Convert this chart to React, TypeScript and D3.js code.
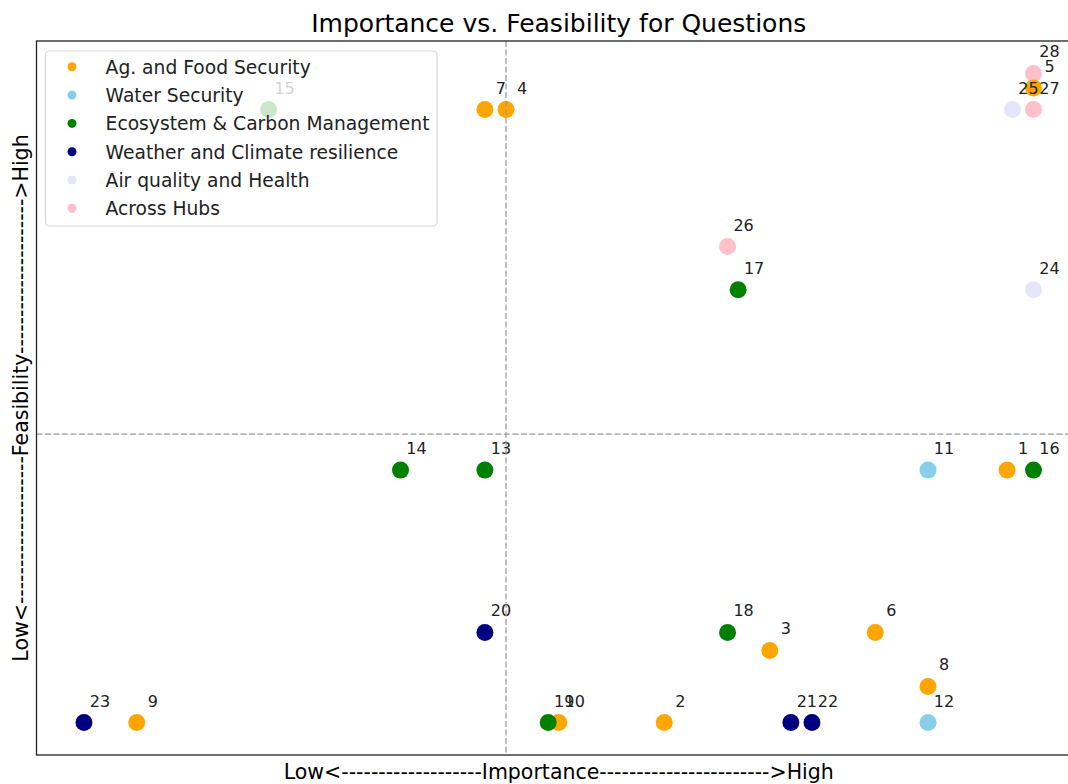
import React from "react";
import * as d3 from "d3";

const categories = [
  "Ag. and Food Security",
  "Water Security",
  "Ecosystem & Carbon Management",
  "Weather and Climate resilience",
  "Air quality and Health",
  "Across Hubs",
];
const categoryColors = ["orange", "skyblue", "green", "navy", "lavender", "pink"];

const questionIds = [
  1, 2, 3, 4, 5, 6, 7, 8, 9, 10, 11, 12, 13, 14, 15, 16, 17, 18, 19, 20, 21, 22, 23, 24, 25, 26, 27, 28,
];
const questionCategory = [
  0, 0, 0, 0, 0, 0, 0, 0, 0, 0, 1, 1, 2, 2, 2, 2, 2, 2, 2, 3, 3, 3, 3, 4, 4, 5, 5, 5,
];
const importance = [
  87.5, 55, 65, 40, 90, 75, 38, 80, 5, 45, 80, 80, 38, 30, 17.5, 90, 62, 61, 44, 38, 67, 69, 0, 90, 88, 61, 90, 90,
];
const feasibility = [
  14, 0, 4, 34, 35.2, 5, 34, 2, 0, 0, 14, 0, 14, 14, 34, 14, 24, 5, 0, 5, 0, 0, 0, 24, 34, 26.4, 34, 36,
];
const importanceThreshold = 40;
const feasibilityThreshold = 16;
// plotting order of categories (bottom to top)
const drawOrder = [5, 0, 1, 2, 3, 4];

const titleText = "Importance vs. Feasibility for Questions";
const xLabelText = "Low<" + "-".repeat(19) + "Importance" + "-".repeat(23) + ">High";
const yLabelText = "Low<" + "-".repeat(20) + "Feasibility" + "-".repeat(21) + ">High";

const W = 1068;
const H = 784;
const left = 36.5;
const right = 1081;
const top = 41;
const bottom = 755;
const FONT = "DejaVu Sans, sans-serif";

function padded(vals: number[]): [number, number] {
  const [lo, hi] = d3.extent(vals) as [number, number];
  const p = (hi - lo) * 0.05;
  return [lo - p, hi + p];
}

export default function App() {
  const x = d3.scaleLinear().domain(padded(importance)).range([left, right]);
  const y = d3.scaleLinear().domain(padded(feasibility)).range([bottom, top]);

  const points = questionIds.map((id, i) => ({
    id,
    cat: questionCategory[i],
    x: importance[i],
    y: feasibility[i],
  }));
  const ordered = drawOrder.flatMap((c) => points.filter((p) => p.cat === c));

  const legendX = 45.5;
  const legendY = 51;
  const rowH = 28.3;
  const row0 = 66.8;

  return (
    <svg
      width={W}
      height={H}
      style={{ position: "absolute", left: 0, top: 0, background: "white" }}
      fontFamily={FONT}
    >
      <defs>
        <clipPath id="plotClip">
          <rect x={left} y={top} width={right - left} height={bottom - top} />
        </clipPath>
      </defs>
      <rect x={0} y={0} width={W} height={H} fill="white" />
      <text x={(left + right) / 2} y={32.4} textAnchor="middle" fontSize={25} fill="#000">
        {titleText}
      </text>

      <g clipPath="url(#plotClip)">
        {ordered.map((p) => (
          <circle
            key={"c" + p.id}
            cx={x(p.x)}
            cy={y(p.y)}
            r={8.5}
            fill={categoryColors[p.cat]}
          />
        ))}
        {ordered.map((p) => (
          <text
            key={"t" + p.id}
            x={x(p.x) + 16}
            y={y(p.y) - 16}
            textAnchor="middle"
            fontSize={16}
            fill="#222"
          >
            {p.id}
          </text>
        ))}
        <line
          x1={x(importanceThreshold)}
          x2={x(importanceThreshold)}
          y1={top}
          y2={bottom}
          stroke="#999"
          strokeWidth={1.2}
          strokeDasharray="5.9 2.6"
        />
        <line
          x1={left}
          x2={right}
          y1={y(feasibilityThreshold)}
          y2={y(feasibilityThreshold)}
          stroke="#999"
          strokeWidth={1.2}
          strokeDasharray="5.9 2.6"
        />
      </g>

      <rect
        x={left}
        y={top}
        width={right - left}
        height={bottom - top}
        fill="none"
        stroke="#222"
        strokeWidth={1.3}
      />

      <g>
        <rect
          x={legendX}
          y={legendY}
          width={391.5}
          height={175}
          rx={4}
          fill="white"
          fillOpacity={0.8}
          stroke="#ccc"
          strokeOpacity={0.8}
          strokeWidth={1.2}
        />
        {categories.map((c, i) => (
          <g key={c}>
            <circle cx={72} cy={row0 + i * rowH} r={4.5} fill={categoryColors[i]} />
            <text x={105.6} y={row0 + i * rowH + 6.8} fontSize={18.7} fill="#222">
              {c}
            </text>
          </g>
        ))}
      </g>

      <text x={(left + right) / 2} y={779} textAnchor="middle" fontSize={20.5} fill="#000">
        {xLabelText}
      </text>
      <text
        transform={`translate(27.5, ${(top + bottom) / 2}) rotate(-90)`}
        textAnchor="middle"
        fontSize={20.5}
        fill="#000"
      >
        {yLabelText}
      </text>
    </svg>
  );
}
